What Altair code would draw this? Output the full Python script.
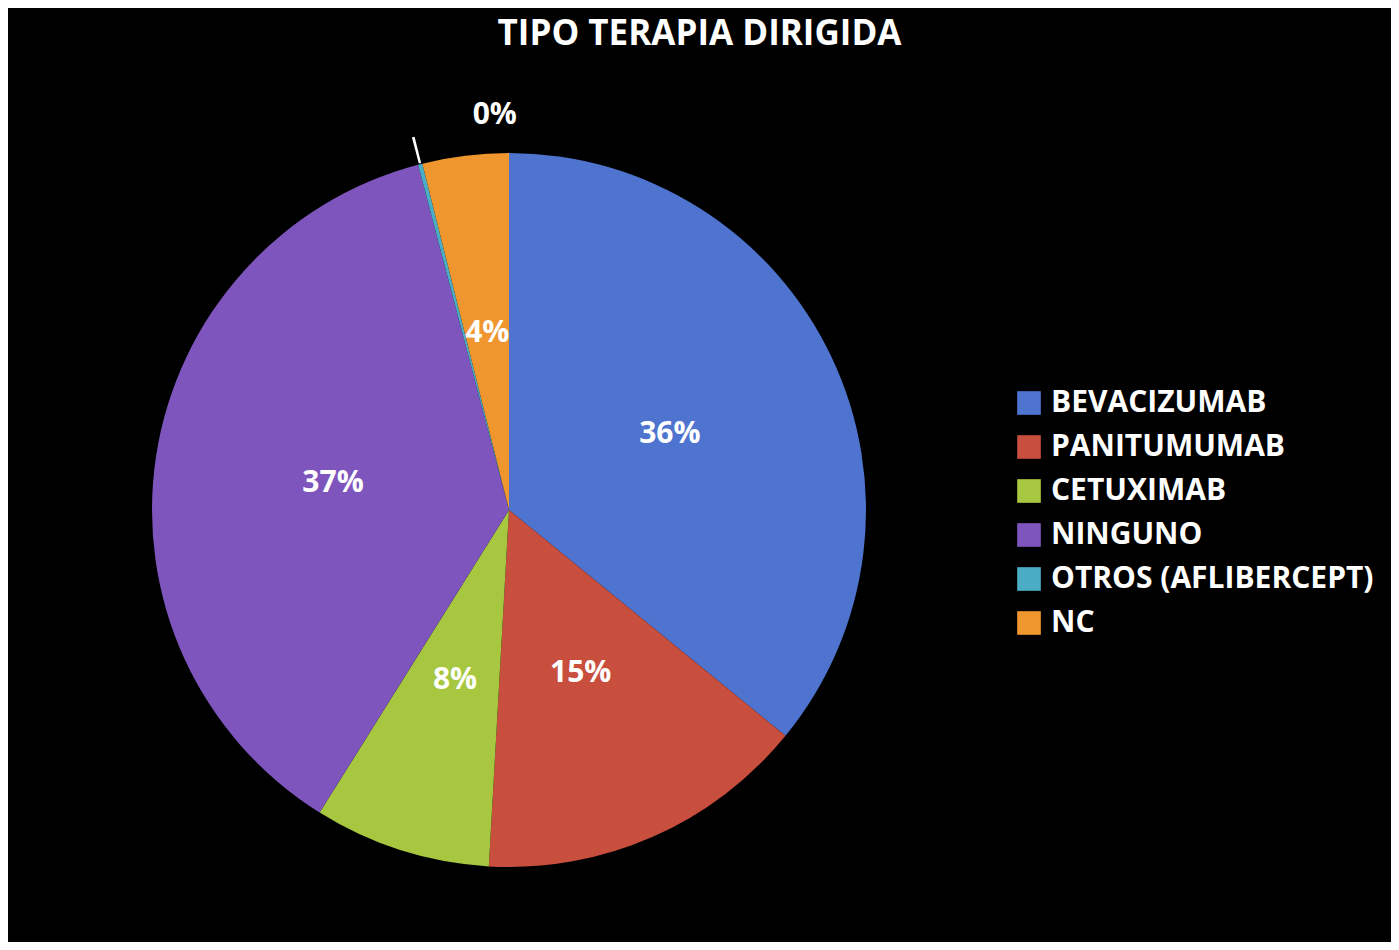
import altair as alt
import pandas as pd

categories = ["BEVACIZUMAB", "PANITUMUMAB", "CETUXIMAB", "NINGUNO", "OTROS (AFLIBERCEPT)", "NC"]
values = [35.9, 15.0, 8.0, 37.0, 0.2, 3.9]
colors = ["#4F74CF", "#C84E3E", "#A6C73F", "#7E55BD", "#4BACC6", "#EF962F"]

labels = [f"{round(v):.0f}%" for v in values]
df = pd.DataFrame({
    "category": categories,
    "value": values,
    "order": list(range(len(categories))),
    "inner": [l if c != "OTROS (AFLIBERCEPT)" else "" for c, l in zip(categories, labels)],
    "outer": [l if c == "OTROS (AFLIBERCEPT)" else "" for c, l in zip(categories, labels)],
    "lead": [1 if c == "OTROS (AFLIBERCEPT)" else 0 for c in categories],
})

CX, CY, R = 501, 452, 357
FONT = "Open Sans"

base = alt.Chart(df).encode(
    theta=alt.Theta("value:Q", stack=True),
    order=alt.Order("order:Q"),
)

pie = base.mark_arc(radius=R).encode(
    x=alt.value(CX), y=alt.value(CY),
    color=alt.Color(
        "category:N",
        scale=alt.Scale(domain=categories, range=colors),
        sort=categories,
        legend=alt.Legend(
            title=None, orient="none", legendX=1006, legendY=330,
            symbolType="square", symbolSize=560, symbolStrokeWidth=0,
            labelColor="white", labelFont=FONT, labelFontWeight="bold",
            labelFontSize=30, rowPadding=14, labelOffset=7,
            labelLimit=400,
        ),
    ),
)

leader = base.mark_arc(radius=R + 1, radius2=R + 28, color="white", padAngle=0.004).encode(
    x=alt.value(CX), y=alt.value(CY),
    opacity=alt.Opacity("lead:Q", scale=alt.Scale(domain=[0, 1], range=[0, 1]), legend=None),
)

inner_text = base.mark_text(
    radius=178, color="white", font=FONT, fontWeight="bold", fontSize=30,
).encode(x=alt.value(CX), y=alt.value(CY), text="inner:N")

outer_text = base.mark_text(
    radius=395, dx=84, dy=-12, color="white", font=FONT, fontWeight="bold", fontSize=30,
).encode(x=alt.value(CX), y=alt.value(CY), text="outer:N")

chart = alt.layer(pie, leader, inner_text, outer_text).properties(
    width=1383, height=884,
    padding={"left": 0, "top": 50, "right": 0, "bottom": 0},
    autosize=alt.AutoSizeParams(type="none"),
    background="black",
    title=alt.TitleParams(
        "TIPO TERAPIA DIRIGIDA", color="white", font=FONT, fontWeight="bold",
        fontSize=35, anchor="middle", offset=6,
    ),
).configure_view(stroke=None)

chart.save("out.html", embed_options={"renderer": "svg", "actions": False})
